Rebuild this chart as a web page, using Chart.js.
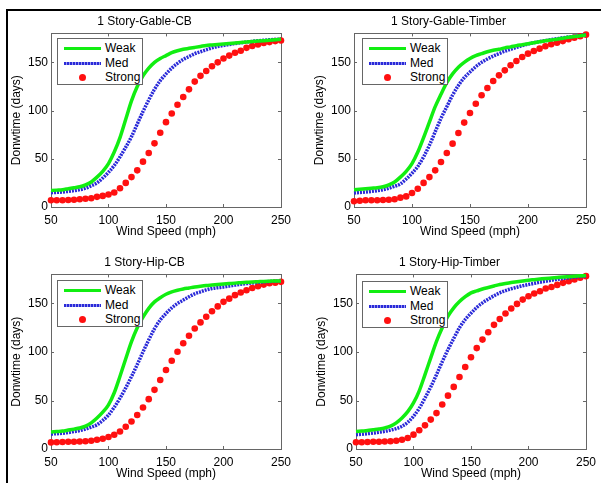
<!DOCTYPE html>
<html>
<head>
<meta charset="utf-8">
<script src="https://cdn.jsdelivr.net/npm/chart.js@4/dist/chart.umd.min.js"></script>
<style>
  body { margin:0; background:#fff; width:601px; height:483px; overflow:hidden; position:relative; font-family:"Liberation Sans", Arial, sans-serif; }
  canvas { position:absolute; }
  .frameTop { position:absolute; left:6px; top:9px; width:595px; height:2px; background:#000; }
  .frameLeft { position:absolute; left:6px; top:9px; width:2px; height:474px; background:#000; }
  .legend { position:absolute; border:1px solid #666; background:#fff; font-size:12px; color:#000; box-sizing:border-box; padding-top:2px; }
  .legend .row { position:relative; height:14.5px; }
  .legend .sym { position:absolute; left:6px; width:37px; top:0; height:14.5px; }
  .legend .txt { position:absolute; left:47px; top:0; line-height:14.5px; }
  .sym .ln { position:absolute; left:0; right:0; top:6px; height:3px; }
  .sym .dot { position:absolute; left:15px; top:4px; width:7px; height:7px; border-radius:50%; }
</style>
</head>
<body>
<div class="frameTop"></div>
<div class="frameLeft"></div>
<script>
// x values (wind speed, mph)
var windSpeed = [50,55,60,65,70,75,80,85,90,95,100,105,110,115,120,125,130,135,140,145,150,155,160,165,170,175,180,185,190,195,200,205,210,215,220,225,230,235,240,245,250];
var xTicks = [50,100,150,200,250];
var yTicks = [0,50,100,150];
var seriesNames = ["Weak","Med","Strong"];
var panelTitles = ["1 Story-Gable-CB","1 Story-Gable-Timber","1 Story-Hip-CB","1 Story-Hip-Timber"];

// downtime (days)
var gableCBWeak = [17,17.5,18,19,20,21,23,26,31,37,45,57,72,91,110,125,136,144,150,154,157,160,162,163.5,164.5,165.5,166.5,167.5,168,168.5,169,169.5,170,170.5,171,171.5,172,172.5,173,173.5,174];
var gableCBMed = [14.8,15.2,15.6,16.2,17,18,19.5,22,25,30,36,43,52,62,73,86,99,111,122,131,138,144,149,153,156,159,161,163,165,166.5,167.5,168.5,169.5,170.3,171,171.7,172.3,172.8,173.3,173.7,174];
var gableCBStrong = [7,7,7,7.2,7.5,8,8.5,9,10.5,11.5,13,15,19.5,25,31,38,47,56,66,77,88,97,106,114,122,130,136,141,146,150,154,157,160,162,165,167,168.5,170,171,172,172.7];

var gableTimberWeak = [18,18.5,19,19.5,20,21,23,26,31,37,45,57,72,88,104,117,129,138,145,150,154,157,159,161,162.5,163.5,165,166,167.3,168.3,169.3,170.3,171.3,172.3,173.2,174,175,176,176.8,177.5,178.3];
var gableTimberMed = [14.5,15,15.5,16.2,17,18,19.5,21.5,24,29,35,42,52,64,78,92,104,116,126,134,140,145.5,150,153.5,156.5,159,161.5,163.5,165.5,167.3,169,170.3,171.5,172.6,173.5,174.5,175.5,176.3,177,177.8,178.5];
var gableTimberStrong = [6,6.5,7,7,7,7.2,7.5,8,9.7,11,14.5,19,25,31,38,46.7,56,65.7,76.7,87.5,97.5,107,115.8,123.4,130.7,136.5,141.7,147,151.4,155.5,159,161.8,164.2,166.6,168.7,170.4,172,174,175.6,177,178.7];

var hipCBWeak = [17.5,18,18.5,19.5,20.5,21.6,23.5,27,32,38,45.5,58,75,93,110.6,125,136,145,151.7,156,159.6,162,163.7,165,166,167,167.8,168.5,169,169.5,170,170.5,171,171.4,171.8,172.2,172.5,172.8,173,173.2,173.3];
var hipCBMed = [15.4,15.8,16.3,17,18,19,20.5,22.5,25,29.5,35,43,52.4,63,74.7,87,100,112.5,124,133,139.7,145.5,150,153.5,157,160,162,164,165.5,166.3,167,168,169,169.8,170.5,171.2,171.8,172.3,172.7,173,173.3];
var hipCBStrong = [6.8,7,7.2,7.5,7.5,7.8,8,8.5,9.6,10.6,12.3,14.7,18,23,28.4,35,42.8,51.4,61,71.2,81.5,91,100.3,109,116.8,124.3,130.5,136.3,142,147,151.7,155,158.6,161.3,163.7,166,167.8,169.5,171,171.5,172.3];

var hipTimberWeak = [18,18.5,19,19.8,20.6,21.7,23.5,27,32,38.5,47.5,60,76.7,94,111,125,137,145.5,152,157,161,163,165,166.5,168,169.6,170.7,171.7,172.5,173.3,174,174.6,175.2,175.8,176.3,176.8,177.3,177.7,178.1,178.5,178.9];
var hipTimberMed = [14.8,15.2,15.8,16.5,17.3,18.2,19.5,21,23.4,27.5,33.7,42,52.6,64,76.7,90,102.5,114,125,133.5,140,146,150.7,154.5,158,161,163.3,165.2,166.8,168.3,169.6,170.8,172,173,174,175,175.8,176.5,177.2,177.8,178.2];
var hipTimberStrong = [6.9,7,7.2,7.5,7.5,7.8,8,8.5,9.6,11.4,14.8,19.3,24.4,30.3,37,45.8,55,64,74.3,84.6,94.6,104,112.8,120.4,128,134,139.7,144.8,149.6,154,157.5,160.3,162.7,165.5,167,169.2,171.3,173,174.7,176.5,178.2];

var weakColor = "#11ee11";
var medColor = "#2a2ad8";
var strongColor = "#ff1010";
var fontFamily = "'Liberation Sans', Arial, sans-serif";

var panels = [
  { title: panelTitles[0], weak: gableCBWeak, med: gableCBMed, strong: gableCBStrong, x: 6, y: 8, w: 291, h: 231, lx: 57, ly: 38 },
  { title: panelTitles[1], weak: gableTimberWeak, med: gableTimberMed, strong: gableTimberStrong, x: 309, y: 8, w: 293, h: 231, lx: 362, ly: 38 },
  { title: panelTitles[2], weak: hipCBWeak, med: hipCBMed, strong: hipCBStrong, x: 6, y: 249, w: 291, h: 232, lx: 57, ly: 280 },
  { title: panelTitles[3], weak: hipTimberWeak, med: hipTimberMed, strong: hipTimberStrong, x: 311, y: 249, w: 291, h: 232, lx: 362, ly: 281 }
];

function pairs(vals) {
  return vals.map(function(v, i) { return { x: windSpeed[i], y: v }; });
}

// axes box with inward tick marks
var boxPlugin = {
  id: 'box',
  beforeDatasetsDraw: function(chart) {
    var a = chart.chartArea, ctx = chart.ctx;
    var xs = chart.scales.x, ys = chart.scales.y;
    ctx.save();
    ctx.strokeStyle = '#666';
    ctx.lineWidth = 1;
    ctx.strokeRect(Math.round(a.left) + 0.5, Math.round(a.top) + 0.5, Math.round(a.right - a.left), Math.round(a.bottom - a.top));
    ctx.beginPath();
    xTicks.forEach(function(v) {
      var px = Math.round(xs.getPixelForValue(v)) + 0.5;
      ctx.moveTo(px, a.bottom); ctx.lineTo(px, a.bottom - 3);
      ctx.moveTo(px, a.top); ctx.lineTo(px, a.top + 3);
    });
    yTicks.forEach(function(v) {
      var py = Math.round(ys.getPixelForValue(v)) + 0.5;
      ctx.moveTo(a.left, py); ctx.lineTo(a.left + 3, py);
      ctx.moveTo(a.right, py); ctx.lineTo(a.right - 3, py);
    });
    ctx.stroke();
    ctx.restore();
  }
};

function makeLegend(p) {
  var box = document.createElement('div');
  box.className = 'legend';
  box.style.left = p.lx + 'px';
  box.style.top = p.ly + 'px';
  box.style.width = '86px';
  box.style.height = '47px';
  seriesNames.forEach(function(name, i) {
    var row = document.createElement('div');
    row.className = 'row';
    var sym = document.createElement('div');
    sym.className = 'sym';
    var mark = document.createElement('div');
    if (i === 0) { mark.className = 'ln'; mark.style.background = weakColor; }
    if (i === 1) { mark.className = 'ln'; mark.style.background = 'repeating-linear-gradient(90deg,' + medColor + ' 0 2px, #9a9af0 2px 3px)'; }
    if (i === 2) { mark.className = 'dot'; mark.style.background = strongColor; }
    sym.appendChild(mark);
    var txt = document.createElement('div');
    txt.className = 'txt';
    txt.textContent = name;
    row.appendChild(sym);
    row.appendChild(txt);
    box.appendChild(row);
  });
  document.body.appendChild(box);
}

function makeChart(p) {
  var cv = document.createElement('canvas');
  cv.width = p.w; cv.height = p.h;
  cv.style.left = p.x + 'px';
  cv.style.top = p.y + 'px';
  document.body.appendChild(cv);
  var font = { family: fontFamily, size: 12 };
  new Chart(cv.getContext('2d'), {
    type: 'line',
    data: {
      datasets: [{
        label: seriesNames[0],
        data: pairs(p.weak),
        borderColor: weakColor,
        borderWidth: 3.5,
        pointRadius: 0,
        cubicInterpolationMode: 'monotone',
        clip: false
      }, {
        label: seriesNames[1],
        data: pairs(p.med),
        borderColor: medColor,
        borderWidth: 3.5,
        borderDash: [2, 1],
        pointRadius: 0,
        cubicInterpolationMode: 'monotone',
        clip: false
      }, {
        label: seriesNames[2],
        data: pairs(p.strong),
        showLine: false,
        pointRadius: 3.3,
        pointBackgroundColor: strongColor,
        pointBorderWidth: 0,
        clip: false
      }]
    },
    options: {
      responsive: false,
      animation: false,
      events: [],
      layout: { padding: { left: 0, right: 14, top: 0, bottom: 0 } },
      plugins: {
        legend: { display: false },
        tooltip: { enabled: false },
        title: {
          display: true, text: p.title, color: '#000',
          font: { family: fontFamily, size: 12, weight: 'normal' },
          padding: { top: 6, bottom: 5 }
        }
      },
      scales: {
        x: {
          type: 'linear', min: 50, max: 250,
          afterBuildTicks: function(s) { s.ticks = xTicks.map(function(v) { return { value: v }; }); },
          afterFit: function(s) { s.height = 32; },
          grid: { display: false, drawTicks: false },
          border: { display: false },
          ticks: { color: '#000', font: font, padding: 6, maxRotation: 0 },
          title: { display: true, text: 'Wind Speed (mph)', color: '#000', font: font, padding: { top: 0, bottom: 0 } }
        },
        y: {
          type: 'linear', min: 0, max: 180,
          afterBuildTicks: function(s) { s.ticks = yTicks.map(function(v) { return { value: v }; }); },
          afterFit: function(s) { s.width = 45; },
          grid: { display: false, drawTicks: false },
          border: { display: false },
          ticks: { color: '#000', font: font, padding: 3 },
          title: { display: true, text: 'Donwtime (days)', color: '#000', font: font, padding: { top: 3, bottom: 0 } }
        }
      }
    },
    plugins: [boxPlugin]
  });
}

panels.forEach(function(p) {
  makeChart(p);
  makeLegend(p);
});
</script>
</body>
</html>
